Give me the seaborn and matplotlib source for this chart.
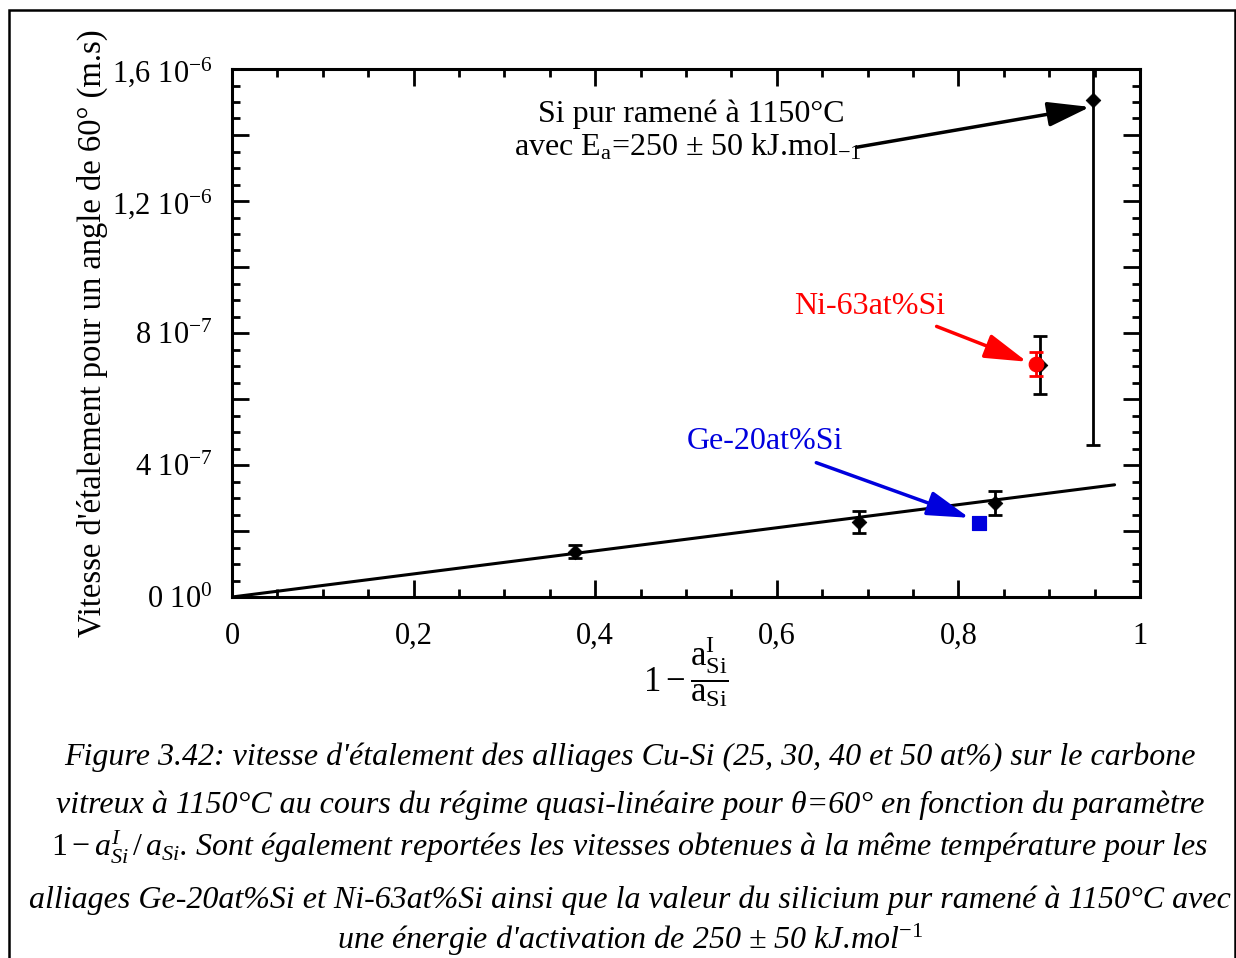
import numpy as np
import pandas as pd
import matplotlib
matplotlib.use('Agg')
import matplotlib.pyplot as plt
from matplotlib.patches import Rectangle
from matplotlib.ticker import FixedLocator, FixedFormatter, MultipleLocator
import seaborn as sns

# Cu-Si alloys (25, 30, 40, 50 at%)
cusi_x = [0.3775, 0.690, 0.840, 0.890]
cusi_y = [1.37e-7, 2.28e-7, 2.86e-7, 7.04e-7]
cusi_err = [0.20e-7, 0.33e-7, 0.36e-7, 0.88e-7]

# pure Si brought back to 1150 C
si_x = [0.948]
si_y = [15.06e-7]
si_err = [10.45e-7]

# other alloys
ni_x = [0.8855]
ni_y = [7.07e-7]
ni_err = [0.36e-7]
ge_x = [0.823]
ge_y = [2.25e-7]

# linear fit through the origin
fit_x = [0.0, 0.972]
fit_y = [0.0, 3.40e-7]

x_ticks = [0, 0.2, 0.4, 0.6, 0.8, 1.0]
x_tick_labels = ['0', '0,2', '0,4', '0,6', '0,8', '1']
y_ticks = [0, 2e-7, 4e-7, 6e-7, 8e-7, 10e-7, 12e-7, 14e-7, 16e-7]
y_tick_labels = ['0 10$^{0}$', '', '4 10$^{-7}$', '', '8 10$^{-7}$', '',
                 '1,2 10$^{-6}$', '', '1,6 10$^{-6}$']

caption = [
    "Figure 3.42: vitesse d'étalement des alliages Cu-Si (25, 30, 40 et 50 at%) sur le carbone",
    "vitreux à 1150°C au cours du régime quasi-linéaire pour θ=60° en fonction du paramètre",
    "$1-a^{I}_{Si}\\,/\\,a_{Si}$. Sont également reportées les vitesses obtenues à la même température pour les",
    "alliages Ge-20at%Si et Ni-63at%Si ainsi que la valeur du silicium pur ramené à 1150°C avec",
    "une énergie d'activation de 250 ± 50 kJ.mol$^{-1}$",
]
caption_y = [757, 805, 847, 900, 940]

sns.set_style('ticks')
plt.rcParams['font.family'] = ['Liberation Serif', 'DejaVu Serif']
plt.rcParams['mathtext.fontset'] = 'custom'
plt.rcParams['mathtext.rm'] = 'Liberation Serif'
plt.rcParams['mathtext.it'] = 'Liberation Serif:italic'
plt.rcParams['mathtext.bf'] = 'Liberation Serif:bold'
plt.rcParams['text.color'] = 'black'
plt.rcParams['axes.labelcolor'] = 'black'
plt.rcParams['xtick.color'] = 'black'
plt.rcParams['ytick.color'] = 'black'

W, H = 1236, 958
fig = plt.figure(figsize=(W / 100, H / 100), dpi=100)
ax = fig.add_axes([232 / W, 1 - 597 / H, 908 / W, 528 / H])

# fit line
sns.lineplot(x=fit_x, y=fit_y, color='black', linewidth=2.2, ax=ax)

# error bars
ax.errorbar(cusi_x, cusi_y, yerr=cusi_err, fmt='none', ecolor='black',
            elinewidth=2, capsize=5, capthick=2, zorder=3)
ax.errorbar(si_x, si_y, yerr=si_err, fmt='none', ecolor='black',
            elinewidth=2, capsize=5, capthick=2, zorder=3)
ax.errorbar(ni_x, ni_y, yerr=ni_err, fmt='none', ecolor='red',
            elinewidth=2, capsize=5, capthick=2, zorder=5)

# markers
sns.scatterplot(x=cusi_x + si_x, y=cusi_y + si_y, marker='D', s=55,
                color='black', edgecolor='black', ax=ax, zorder=4)
sns.scatterplot(x=ni_x, y=ni_y, marker='o', s=110, color='red',
                edgecolor='red', ax=ax, zorder=6)
sns.scatterplot(x=ge_x, y=ge_y, marker='s', s=110, color='#0000dd',
                edgecolor='#0000dd', ax=ax, zorder=6)

ax.set_xlim(0, 1)
ax.set_ylim(0, 1.6e-6)

ax.xaxis.set_major_locator(FixedLocator(x_ticks))
ax.xaxis.set_major_formatter(FixedFormatter(x_tick_labels))
ax.xaxis.set_minor_locator(MultipleLocator(0.05))
ax.yaxis.set_major_locator(FixedLocator(y_ticks))
ax.yaxis.set_major_formatter(FixedFormatter(y_tick_labels))
ax.yaxis.set_minor_locator(MultipleLocator(0.5e-7))

ax.tick_params(which='both', direction='in', top=True, right=True,
               color='black', width=2)
ax.tick_params(which='major', length=12)
ax.tick_params(which='minor', length=6)
ax.tick_params(axis='x', which='major', labelsize=22, pad=18)
ax.tick_params(axis='y', which='major', labelsize=22, pad=14)
for sp in ax.spines.values():
    sp.set_linewidth(2.2)
    sp.set_color('black')

ax.set_ylabel("Vitesse d'étalement pour un angle de 60° (m.s)", fontsize=23.5)
ax.yaxis.set_label_coords(-0.137, 0.5)
ax.set_xlabel(r"$1-\dfrac{\mathrm{a}_{\mathrm{Si}}^{\mathrm{I}}}{\mathrm{a}_{\mathrm{Si}}}$",
              fontsize=25)
ax.xaxis.set_label_coords(0.5, -0.07)

arrow_style = '-|>,head_length=1.3,head_width=0.38'

# annotations
ax.text(0.5055, 14.63e-7, 'Si pur ramené à 1150°C', ha='center', va='center',
        fontsize=23)
ax.text(0.5025, 13.63e-7, 'avec E$_{\\mathrm{a}}$=250 ± 50 kJ.mol$_{-1}$',
        ha='center', va='center', fontsize=23)
ax.annotate('', xy=(si_x[0] - 0.003, 14.85e-7), xytext=(0.688, 13.63e-7),
            arrowprops=dict(arrowstyle=arrow_style, color='black', lw=2.5,
                            mutation_scale=20, shrinkA=0, shrinkB=0))

ax.text(0.702, 8.80e-7, 'Ni-63at%Si', ha='center', va='center',
        fontsize=23, color='red')
ax.annotate('', xy=(ni_x[0] - 0.01, ni_y[0] + 0.06e-7), xytext=(0.776, 8.20e-7),
            arrowprops=dict(arrowstyle=arrow_style, color='red', lw=2.5,
                            mutation_scale=20, shrinkA=0, shrinkB=0))

ax.text(0.587, 4.71e-7, 'Ge-20at%Si', ha='center', va='center',
        fontsize=23, color='#0000dd')
ax.annotate('', xy=(ge_x[0] - 0.011, ge_y[0] + 0.15e-7), xytext=(0.6435, 4.07e-7),
            arrowprops=dict(arrowstyle=arrow_style, color='#0000dd', lw=2.5,
                            mutation_scale=20, shrinkA=0, shrinkB=0))

# caption
for line, yp in zip(caption, caption_y):
    fig.text(630 / W, 1 - yp / H, line, ha='center', va='center',
             fontsize=23, style='italic')

# frame around the whole figure
fig.add_artist(Rectangle((8.5 / W, -0.05), (1234.5 - 8.5) / W, 1.05 - 10.5 / H,
                         transform=fig.transFigure, fill=False,
                         edgecolor='black', linewidth=1.8))

fig.savefig('out.png', dpi=100)
